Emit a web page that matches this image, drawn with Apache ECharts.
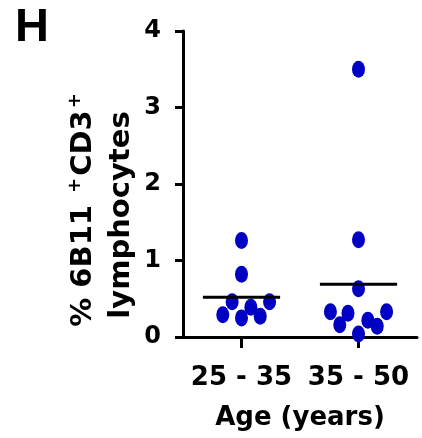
<!DOCTYPE html>
<html>
<head>
<meta charset="utf-8">
<script src="https://cdn.jsdelivr.net/npm/echarts@6/dist/echarts.min.js"></script>
<style>
  html, body { margin: 0; padding: 0; background: #fff; }
  #chart { width: 422px; height: 438px; }
</style>
</head>
<body>
<div id="chart"></div>
<script>
// groups on the x axis (value axis, group i sits at x = i + 1)
const categories = ['25 - 35', '35 - 50']
const yTicks = [0, 1, 2, 3, 4]

// 25 - 35 group: jittered x, % values
const youngX = [1.0, 1.0, 0.92, 1.24, 1.08, 0.84, 1.0, 1.16]
const youngY = [1.26, 0.82, 0.46, 0.46, 0.39, 0.29, 0.25, 0.27]
// 35 - 50 group
const olderX = [2.0, 2.0, 2.0, 1.76, 1.91, 2.24, 1.84, 2.08, 2.16, 2.0]
const olderY = [3.5, 1.27, 0.63, 0.33, 0.31, 0.33, 0.16, 0.22, 0.14, 0.04]

// mean bars
const meanValues = [0.52, 0.69]
const meanHalfWidth = 0.33

const font = 'DejaVu Sans'
const dotColor = '#0000c4'

function pairs(xs, ys) {
  return xs.map((x, i) => [x, ys[i]])
}

const chart = echarts.init(document.getElementById('chart'))

const meanSeries = meanValues.map((m, i) => ({
  type: 'line',
  symbol: 'none',
  silent: true,
  z: 6,
  lineStyle: { color: '#000', width: 3 },
  data: [[i + 1 - meanHalfWidth, m], [i + 1 + meanHalfWidth, m]]
}))

chart.setOption({
  animation: false,
  grid: { left: 183, right: 5, top: 31, bottom: 101 },
  xAxis: {
    type: 'value',
    min: 0.5,
    max: 2.5,
    splitLine: { show: false },
    axisLine: { lineStyle: { color: '#000', width: 3 } },
    axisTick: { customValues: [1, 2], length: 11, lineStyle: { color: '#000', width: 3 } },
    axisLabel: {
      customValues: [1, 2],
      margin: 28,
      fontFamily: font,
      fontWeight: 'bold',
      fontSize: 26,
      color: '#000',
      formatter: v => categories[Math.round(v) - 1] || ''
    },
    name: 'Age (years)',
    nameLocation: 'middle',
    nameGap: 68,
    nameTextStyle: { fontFamily: font, fontWeight: 'bold', fontSize: 26, color: '#000', verticalAlign: 'top' }
  },
  yAxis: {
    type: 'value',
    min: yTicks[0],
    max: yTicks[yTicks.length - 1],
    interval: 1,
    splitLine: { show: false },
    axisLine: { lineStyle: { color: '#000', width: 3 } },
    axisTick: { length: 8, lineStyle: { color: '#000', width: 3 } },
    axisLabel: {
      margin: 22,
      fontFamily: font,
      fontWeight: 'bold',
      fontSize: 24,
      color: '#000'
    }
  },
  graphic: [
    {
      type: 'text', left: 15, top: 5,
      style: { text: 'H', font: 'bold 47px "Liberation Sans"', fill: '#000' }
    },
    {
      type: 'text', x: 82, y: 209, rotation: Math.PI / 2,
      style: {
        text: '{m|% 6B11 }{s|+}{m|CD3}{s|+}',
        align: 'center', verticalAlign: 'middle',
        rich: {
          m: { fontFamily: font, fontWeight: 'bold', fontSize: 29, fill: '#000', verticalAlign: 'bottom' },
          s: { fontFamily: font, fontWeight: 'bold', fontSize: 18, fill: '#000', verticalAlign: 'top', padding: [0, 2, 14, 2] }
        }
      }
    },
    {
      type: 'text', x: 121, y: 215, rotation: Math.PI / 2,
      style: {
        text: 'lymphocytes',
        align: 'center', verticalAlign: 'middle',
        font: 'bold 29px "DejaVu Sans"', fill: '#000'
      }
    }
  ],
  series: [
    {
      type: 'scatter', z: 5, clip: false,
      symbol: 'circle', symbolSize: [13, 17],
      itemStyle: { color: dotColor, opacity: 1 },
      data: pairs(youngX, youngY)
    },
    {
      type: 'scatter', z: 5, clip: false,
      symbol: 'circle', symbolSize: [13, 17],
      itemStyle: { color: dotColor, opacity: 1 },
      data: pairs(olderX, olderY)
    }
  ].concat(meanSeries)
})
</script>
</body>
</html>
